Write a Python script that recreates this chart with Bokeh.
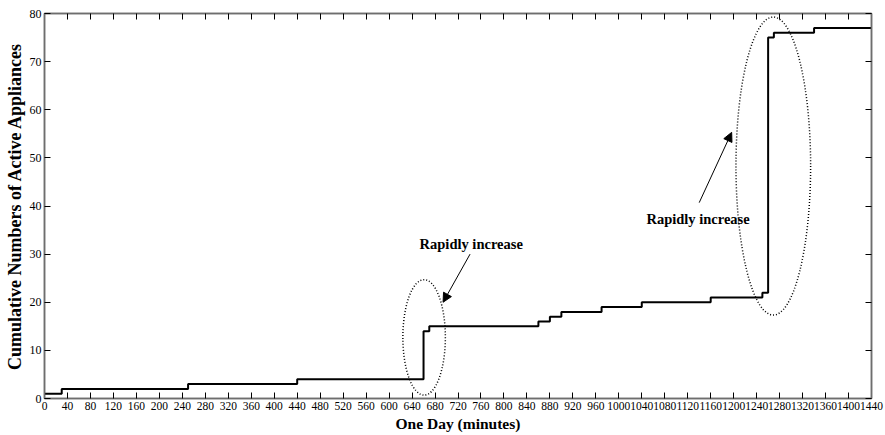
from bokeh.plotting import figure
from bokeh.models import Range1d, LinearAxis, FixedTicker, Arrow, NormalHead, Label
from bokeh.embed import file_html
from bokeh.resources import INLINE

# Data: cumulative number of active appliances over one day (step function)
times = [0, 30, 250, 440, 660, 670, 860, 880, 900, 970, 1040, 1160, 1250, 1260, 1270, 1340, 1440]
counts = [1, 2, 3, 4, 14, 15, 16, 17, 18, 19, 20, 21, 22, 75, 76, 77, 77]

x_ticks = list(range(0, 1441, 40))
y_ticks = list(range(0, 81, 10))

# Annotations (ellipse centres/sizes, label positions, arrows) in data units
ell_x = [661, 1269]
ell_y = [12.7, 48.3]
ell_w = [74, 130]
ell_h = [24, 62]
note_text = "Rapidly increase"
note_pos = [(743, 32.2), (1138, 37.3)]
arrows = [((741, 30.0), (694, 20.0)), ((1140, 40.7), (1196.5, 55.3))]

SERIF = "Liberation Serif"

p = figure(width=885, height=435, output_backend="svg", toolbar_location=None,
           x_range=Range1d(0, 1440), y_range=Range1d(0, 80),
           min_border_left=44, min_border_right=14, min_border_top=13, min_border_bottom=37)
p.background_fill_color = "white"
p.border_fill_color = "white"
p.outline_line_color = "#6e6e6e"
p.outline_line_width = 1.5
p.xgrid.grid_line_color = None
p.ygrid.grid_line_color = None

def style_axis(ax, ticks, show_labels, label_size="11.5px", title_size="15px"):
    ax.ticker = FixedTicker(ticks=ticks)
    ax.major_tick_in = 6
    ax.major_tick_out = 0
    ax.minor_tick_line_color = None
    ax.major_tick_line_color = "black"
    ax.major_tick_line_width = 1
    ax.axis_line_color = "#6e6e6e"
    ax.axis_line_width = 1.5
    if show_labels:
        ax.major_label_text_font = SERIF
        ax.major_label_text_font_size = label_size
        ax.major_label_text_color = "black"
        ax.major_label_standoff = 3
        ax.axis_label_text_font = SERIF
        ax.axis_label_text_font_style = "bold"
        ax.axis_label_text_font_size = title_size
        ax.axis_label_text_color = "black"
        ax.axis_label_standoff = 2
    else:
        ax.major_label_text_font_size = "1px"
        ax.major_label_text_color = None
        ax.major_label_standoff = 0

xa = p.xaxis[0]
ya = p.yaxis[0]
style_axis(xa, x_ticks, True, "11.5px", "15.5px")
style_axis(ya, y_ticks, True, "12px", "18px")
xa.axis_label = "One Day (minutes)"
ya.axis_label = "Cumulative Numbers of Active Appliances"

top = LinearAxis()
style_axis(top, x_ticks, False)
p.add_layout(top, "above")
right = LinearAxis()
style_axis(right, y_ticks, False)
p.add_layout(right, "right")

p.step(times, counts, mode="after", line_color="black", line_width=2)

p.ellipse(x=ell_x, y=ell_y, width=ell_w, height=ell_h, fill_color=None,
          line_color="black", line_width=1.5, line_dash="1 2")

for (tx, ty) in note_pos:
    p.add_layout(Label(x=tx, y=ty, text=note_text, text_font=SERIF, text_font_style="bold",
                       text_font_size="14.5px", text_color="black",
                       text_align="center", text_baseline="middle"))

for (s, e) in arrows:
    p.add_layout(Arrow(x_start=s[0], y_start=s[1], x_end=e[0], y_end=e[1],
                       line_color="black", line_width=1,
                       end=NormalHead(size=9, fill_color="black", line_color="black")))

open("out.html", "w").write(file_html(p, INLINE))
